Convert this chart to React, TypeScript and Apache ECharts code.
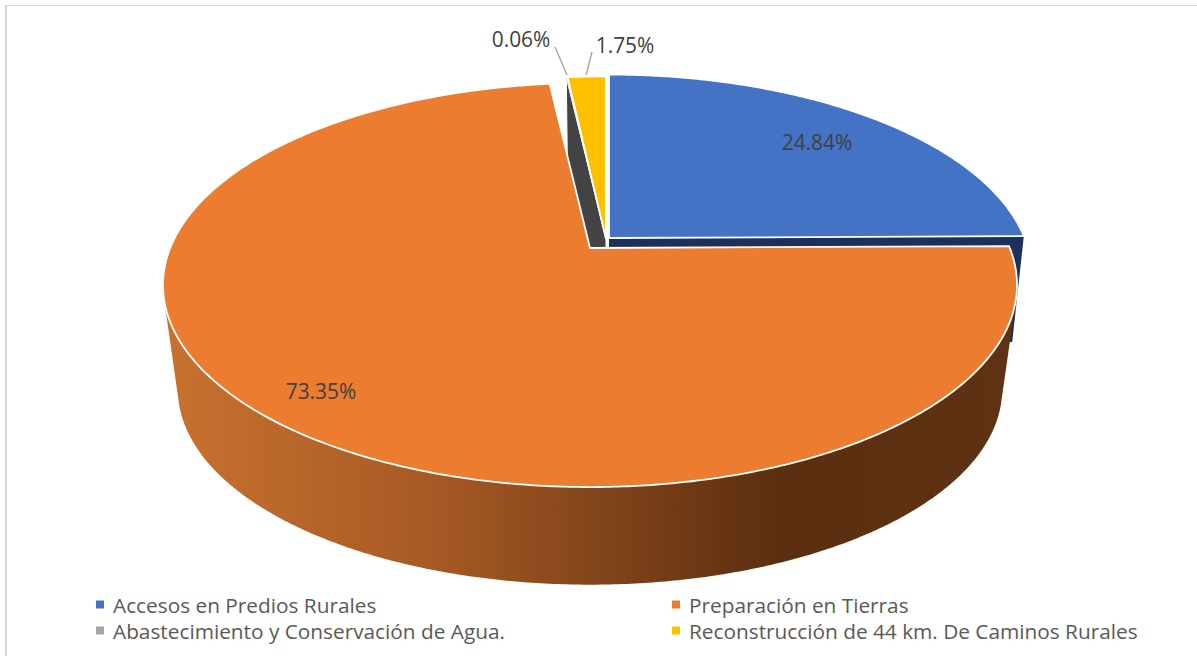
import React, { useEffect, useRef } from "react";
import * as echarts from "echarts";

const categories = [
  "Accesos en Predios Rurales",
  "Preparación en Tierras",
  "Abastecimiento y Conservación de Agua.",
  "Reconstrucción de 44 km. De Caminos Rurales",
];
const values = [24.84, 73.35, 0.06, 1.75];
const topColors = ["#4472c4", "#ec7c30", "#a5a5a5", "#ffc000"];

// layout of the projected pie
const K = 0.183, A = 419.8, B = 195.3, DEPTH = 106;
const layouts = [
  { ax: 609, ay: 238, s: 0.99, bs: 0.972, label: [817, 142] },
  { ax: 590, ay: 248, s: 1, bs: 0.965, label: [321, 391] },
  { ax: 606, ay: 239, s: 0.985, bs: 0.965, label: [521, 39], leader: [[555, 47], [567, 75]] },
  { ax: 606, ay: 239, s: 0.985, bs: 0.965, label: [625, 45], leader: [[592, 52], [586, 75]] },
];
const zOrder = [3, 4, 1, 2];
const FONT = "'Open Sans', sans-serif";
const total = values.reduce((a, b) => a + b, 0);

type Pt = [number, number];
function project(deg: number, i: number, bottom = false, r = 1): Pt {
  const t = (deg * Math.PI) / 180;
  const u = r * Math.sin(t), v = -r * Math.cos(t);
  const w = 1 - K * v;
  const l = layouts[i];
  const s = l.s * (bottom ? l.bs : 1);
  return [l.ax + (s * A * u) / w, l.ay + (bottom ? DEPTH : 0) + (s * B * v) / w];
}
function arc(from: number, to: number, i: number, bottom = false): Pt[] {
  const n = Math.max(2, Math.ceil(Math.abs(to - from) * 2));
  const out: Pt[] = [];
  for (let j = 0; j <= n; j++) out.push(project(from + ((to - from) * j) / n, i, bottom));
  return out;
}
function hull(pts: Pt[]): Pt[] {
  const p = [...pts].sort((a, b) => a[0] - b[0] || a[1] - b[1]);
  const cross = (o: Pt, a: Pt, b: Pt) => (a[0] - o[0]) * (b[1] - o[1]) - (a[1] - o[1]) * (b[0] - o[0]);
  const lo: Pt[] = [], up: Pt[] = [];
  for (const q of p) {
    while (lo.length > 1 && cross(lo[lo.length - 2], lo[lo.length - 1], q) <= 0) lo.pop();
    lo.push(q);
  }
  for (const q of p.reverse()) {
    while (up.length > 1 && cross(up[up.length - 2], up[up.length - 1], q) <= 0) up.pop();
    up.push(q);
  }
  return lo.slice(0, -1).concat(up.slice(0, -1));
}

function angleRange(i: number): [number, number] {
  let c = 0;
  for (let j = 0; j < i; j++) c += values[j];
  return [(c / total) * 360, ((c + values[i]) / total) * 360];
}

function renderSlice(i: number) {
  return (_p: any, api: any) => {
    const val = api.value(0) as number;
    const [a0, a1] = angleRange(i);
    const l = layouts[i];
    const children: any[] = [];
    const apexT: Pt = [l.ax, l.ay];
    const apexB: Pt = [l.ax, l.ay + DEPTH];
    if (i === 0) {
      const pts = [...arc(40, a1, 0), ...arc(40, a1, 0, true), apexT, apexB];
      children.push({ type: "polygon", shape: { points: hull(pts) }, style: { fill: "#1c3059", stroke: "none" } });
    }
    if (i === 1) {
      const pts = [...arc(a0, 270, 1), ...arc(a0, 270, 1, true)];
      children.push({
        type: "polygon",
        shape: { points: hull(pts) },
        style: {
          fill: new echarts.graphic.LinearGradient(0, 0, 1, 0, [
            { offset: 0, color: "#c8722f" },
            { offset: 0.3, color: "#a95b25" },
            { offset: 0.72, color: "#5c2e10" },
            { offset: 1, color: "#5f3214" },
          ]),
          stroke: "none",
        },
      });
    }
    if (i === 2) {
      const pts = [apexT, project(a0, 2), project(a0, 2, true), apexB];
      children.push({ type: "polygon", shape: { points: pts }, style: { fill: "#434343", stroke: "#ffffff", lineWidth: 1 } });
    }
    const top: Pt[] = [apexT, ...arc(a0, a1, i)];
    children.push({
      type: "polygon",
      shape: { points: top },
      style: { fill: topColors[i], stroke: "#ffffff", lineWidth: i === 2 ? 0.5 : 1.8, lineJoin: "miter" },
    });
    if (l.leader) {
      children.push({
        type: "line",
        shape: { x1: l.leader[0][0], y1: l.leader[0][1], x2: l.leader[1][0], y2: l.leader[1][1] },
        style: { stroke: "#a6a6a6", lineWidth: 1.4 },
      });
    }
    children.push({
      type: "text",
      style: {
        text: val.toFixed(2) + "%",
        x: l.label[0],
        y: l.label[1],
        align: "center",
        verticalAlign: "middle",
        fill: "#404040",
        fontSize: 20.9,
        fontFamily: FONT,
      },
    });
    return { type: "group", children };
  };
}

const legendBase = {
  orient: "vertical" as const,
  icon: "rect",
  itemWidth: 8,
  itemHeight: 8,
  itemGap: 5,
  padding: 0,
  selectedMode: false,
  textStyle: { color: "#595959", fontSize: 20.8, fontFamily: FONT, padding: [0, 0, 0, 4] },
};

export default function App() {
  const ref = useRef<HTMLDivElement>(null);
  useEffect(() => {
    document.body.style.margin = "0";
    const chart = echarts.init(ref.current!, undefined, { renderer: "svg" });
    chart.setOption({
      animation: false,
      backgroundColor: "#ffffff",
      legend: [
        { ...legendBase, left: 96, top: 594, data: [categories[0], categories[2]] },
        { ...legendBase, left: 672, top: 594, data: [categories[1], categories[3]] },
      ],
      graphic: [
        { type: "rect", shape: { x: 5, y: 5, width: 1192, height: 1 }, style: { fill: "#d9d9d9" }, silent: true },
        { type: "rect", shape: { x: 5, y: 5, width: 2, height: 651 }, style: { fill: "#d9d9d9" }, silent: true },
      ],
      series: categories.map((name, i) => ({
        type: "custom",
        name,
        coordinateSystem: "none",
        silent: true,
        z: zOrder[i],
        itemStyle: { color: topColors[i] },
        data: [[values[i]]],
        renderItem: renderSlice(i),
      })),
    });
    return () => chart.dispose();
  }, []);
  return <div ref={ref} style={{ position: "absolute", left: 0, top: 0, width: 1197, height: 656 }} />;
}
